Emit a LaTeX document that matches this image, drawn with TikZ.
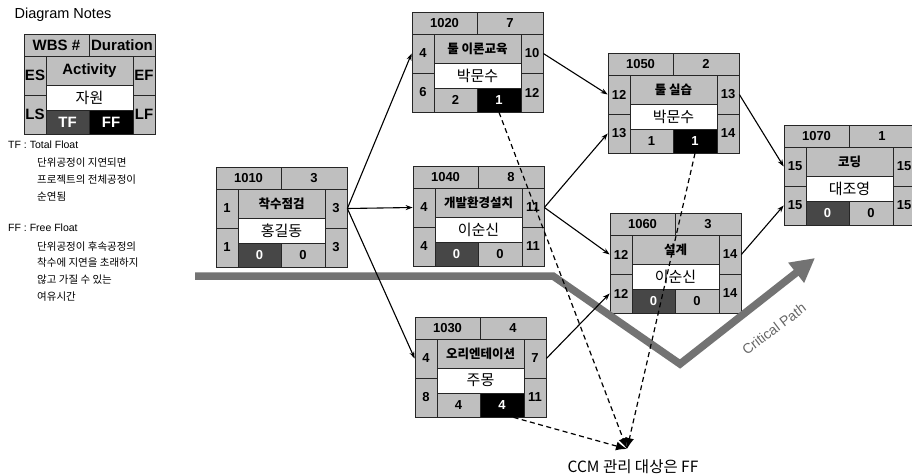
\documentclass[tikz,border=0pt]{standalone}
\usepackage{fontspec}
\setmainfont{Liberation Sans}
\newfontfamily\kr{Noto Sans CJK KR}
\usetikzlibrary{arrows.meta}
\definecolor{cellgray}{gray}{0.75}
\definecolor{tfdark}{gray}{0.28}
\definecolor{cpgray}{gray}{0.45}
\newcommand\numfont{\bfseries\fontsize{13}{13}\selectfont}
\newcommand\actfont{\kr\fontsize{12.5}{13}\selectfont}
\newcommand\resfont{\kr\mdseries\fontsize{15}{15}\selectfont}
\newcommand\legfont{\normalfont\bfseries\fontsize{15}{15}\selectfont}
\newcommand\notefont{\fontsize{10.5}{12}\selectfont}
\tikzset{
  cell/.style={draw=black!85, line width=0.7pt, fill=cellgray, inner sep=0pt, font=\numfont, text=black},
  side/.style={minimum width=22, minimum height=39},
  bot/.style={minimum width=43, minimum height=24},
  darkcell/.style={fill=tfdark, text=white},
  blackcell/.style={fill=black, text=white},
  conn/.style={line width=1.1pt, -{Stealth[length=7pt,width=5pt]}},
  ccm/.style={line width=1.2pt, dash pattern=on 5pt off 3.5pt, -{Latex[length=11pt,width=9pt]}},
  critical/.style={line width=7.5pt, draw=cpgray, -{Triangle[length=24pt,width=24pt]}},
  note/.style={anchor=west, inner sep=0pt, font=\notefont},
  knote/.style={anchor=west, inner sep=0pt, font=\kr\notefont},
}
\newcommand\actsides[4]{%
  \node[cell, side] (es) at (11,41.5) {#1};
  \node[cell, side] (ef) at (120,41.5) {#2};
  \node[cell, side] (ls) at (11,80.5) {#3};
  \node[cell, side] (lf) at (120,80.5) {#4};}
\newcommand\acttf[2]{\node[cell, bot, #1] (tf) at (43.5,88) {#2};}
\newcommand\actff[2]{\node[cell, bot, minimum width=44, #1] (ff) at (87,88) {#2};}
\newcommand\actbox[9]{%
  \begin{scope}[shift={#2}, name prefix=#1-]
  \node[cell, minimum width=65, minimum height=22] (wbs) at (32.5,11) {#3};
  \node[cell, minimum width=66, minimum height=22] (dur) at (98,11) {#4};
  \node[cell, minimum width=87, minimum height=29] (act) at (65.5,36.5) {\actfont #5};
  \node[cell, fill=white, minimum width=87, minimum height=25] (res) at (65.5,63.5) {\resfont #6};
  \actsides#7
  \acttf#8
  \actff#9
  \end{scope}}
\begin{document}
\begin{tikzpicture}[x=1pt,y=-1pt]
\clip (0,0) rectangle (912,476);
\fill[white] (0,0) rectangle (912,476);
% legend
\node[font=\fontsize{14.5}{15}\selectfont] (title) at (63,15) {Diagram Notes};
\actbox{leg}{(24,34)}{{\legfont WBS \#}}{{\legfont Duration}}{\legfont Activity}{자원}{{\legfont ES}{\legfont EF}{\legfont LS}{\legfont LF}}{{darkcell}{\legfont TF}}{{blackcell}{\legfont FF}}
\node[note] (tfnote) at (8,145) {TF : Total Float};
\node[knote] (tf1) at (37,163) {단위공정이 지연되면};
\node[knote] (tf2) at (37,180) {프로젝트의 전체공정이};
\node[knote] (tf3) at (37,197) {순연됨};
\node[note] (ffnote) at (8,228) {FF : Free Float};
\node[knote] (ff1) at (37,247) {단위공정이 후속공정의};
\node[knote] (ff2) at (37,263) {착수에 지연을 초래하지};
\node[knote] (ff3) at (37,280) {않고 가질 수 있는};
\node[knote] (ff4) at (37,297) {여유시간};
% activities
\actbox{n1010}{(216,167)}{1010}{3}{착수점검}{홍길동}{{1}{3}{1}{3}}{{darkcell}{0}}{{}{0}}
\actbox{n1020}{(412,12)}{1020}{7}{툴 이론교육}{박문수}{{4}{10}{6}{12}}{{}{2}}{{blackcell}{1}}
\actbox{n1040}{(413,166)}{1040}{8}{개발환경설치}{이순신}{{4}{11}{4}{11}}{{darkcell}{0}}{{}{0}}
\actbox{n1030}{(415,317)}{1030}{4}{오리엔테이션}{주몽}{{4}{7}{8}{11}}{{}{4}}{{blackcell}{4}}
\actbox{n1050}{(608,53)}{1050}{2}{툴 실습}{박문수}{{12}{13}{13}{14}}{{}{1}}{{blackcell}{1}}
\actbox{n1060}{(610,213)}{1060}{3}{설계}{이순신}{{12}{14}{12}{14}}{{darkcell}{0}}{{}{0}}
\actbox{n1070}{(784,125)}{1070}{1}{코딩}{대조영}{{15}{15}{15}{15}}{{darkcell}{0}}{{}{0}}
% critical path
\coordinate (cp0) at (195,276);
\coordinate (cp1) at (553,276);
\coordinate (cp2) at (680,364);
\coordinate (cp3) at (815,258);
\draw[critical] (cp0) -- (cp1) -- (cp2) -- (cp3);
\node[rotate=37, text=black!60, font=\fontsize{14}{14}\selectfont] (cplabel) at (774,329) {Critical Path};
% connectors
\draw[conn] (n1010-ef.east) -- (n1020-es.west);
\draw[conn] (n1010-ef.east) -- (n1040-es.west);
\draw[conn] (n1010-ef.east) -- (n1030-es.west);
\draw[conn] (n1020-ef.east) -- (n1050-es.west);
\draw[conn] (n1040-ef.east) -- (n1050-ls.west);
\draw[conn] (n1040-ef.east) -- (n1060-es.west);
\draw[conn] (n1030-ef.east) -- (n1060-ls.west);
\draw[conn] (n1050-ef.east) -- (n1070-es.west);
\draw[conn] (n1060-ef.east) -- (n1070-ls.west);
% CCM
\coordinate (ccmtip) at (627,449);
\draw[ccm] (n1020-ff.south) -- (ccmtip);
\draw[ccm] (n1050-ff.south) -- (ccmtip);
\draw[ccm] (n1030-ff.-47) -- (ccmtip);
\node[font=\kr\fontsize{15.5}{16}\selectfont] (ccmlabel) at (633,467) {CCM 관리 대상은 FF};
\end{tikzpicture}
\end{document}
